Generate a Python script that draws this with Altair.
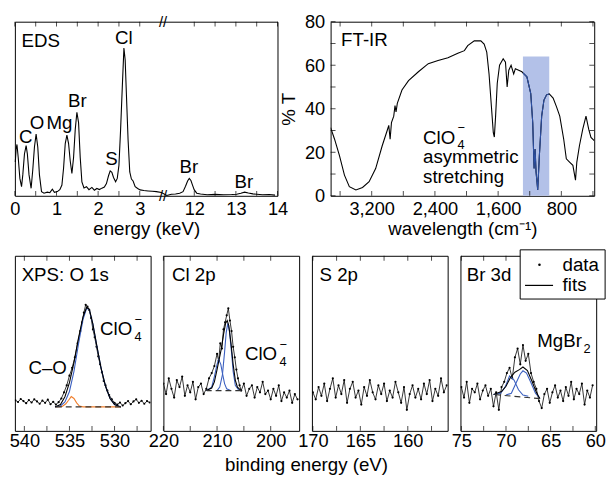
import altair as alt
import pandas as pd

FONT = "Liberation Sans"
FS = 19      # in-panel texts and axis titles
FT = 18.5    # tick labels
BLUE = "#3a5fc0"
ORANGE = "#f07f2d"

# ---------------- EDS ----------------
eds_E = [0.01, 0.03, 0.05, 0.08, 0.12, 0.16, 0.19, 0.23, 0.27, 0.30, 0.34, 0.39, 0.43, 0.47, 0.51, 0.55,
         0.59, 0.64, 0.70, 0.78, 0.84, 0.90, 0.95, 1.02, 1.08, 1.13, 1.17, 1.21, 1.25, 1.29, 1.33, 1.37,
         1.41, 1.45, 1.49, 1.53, 1.57, 1.61, 1.66, 1.72, 1.78, 1.85, 1.91, 1.97, 2.03, 2.09, 2.15, 2.20,
         2.25, 2.29, 2.33, 2.37, 2.42, 2.46, 2.50, 2.54, 2.58, 2.62, 2.65, 2.68, 2.72, 2.76, 2.80, 2.84,
         2.89, 2.95, 3.01, 3.10, 3.20, 3.30, 3.40, 3.52,
         11.34, 11.45, 11.55, 11.65, 11.73, 11.79, 11.84, 11.88, 11.92, 11.96, 12.00, 12.06, 12.15,
         12.31, 12.50, 12.70, 12.90, 13.02, 13.12, 13.21, 13.30, 13.41, 13.64, 13.80, 13.94]
eds_I = [19.4, 27, 29.5, 22, 10, 5.3, 12, 24, 28.8, 24, 12, 4.3, 15, 28, 35.4, 28,
         12, 2.4, 1.5, 2.1, 1.8, 3.8, 2.0, 2.4, 3.5, 6.2, 16, 30, 34.8, 30, 20, 12.8,
         22, 38, 48, 42, 22, 8, 4.5, 5.2, 3.5, 4.8, 3.2, 4.2, 3.6, 4.4, 5.0, 7.0,
         11.5, 14.3, 13.5, 10.5, 8.1, 10, 17.5, 38, 62, 84.9, 78, 58, 32, 13.7, 9.6, 8.5,
         5.3, 4.2, 3.4, 3.0, 2.8, 2.6, 2.4, 1.9,
         0.2, 0.9, 1.0, 1.5, 2.4, 5.5, 8.5, 10, 8.8, 6, 3.4, 1.5, 1.0,
         0.6, 0.8, 0.6, 0.7, 0.9, 1.5, 2.1, 1.6, 1.1, 0.6, 0.7, 0.4]
eds_lab_text = ["EDS", "C", "O", "Mg", "Br", "S", "Cl", "Br", "Br"]
eds_lab_E = [0.16, 0.26, 0.53, 1.07, 1.50, 2.32, 2.62, 11.87, 13.19]
eds_lab_I = [89, 33.5, 42, 41.6, 54.6, 20.9, 90.6, 16.2, 8.1]
eds_lab_align = ["left", "center", "center", "center", "center", "center", "center", "center", "center"]
eds_major = [0, 1, 2, 3, 12, 13, 14]
eds_minor = [0.5, 1.5, 2.5, 12.5, 13.5]
eds_break = [3.56]

# ---------------- FT-IR ----------------
ftir_wn = [3720, 3670, 3608, 3545, 3483, 3400, 3316, 3233, 3150, 3067, 3004, 2984, 2967, 2950, 2921,
           2905, 2892, 2876, 2817, 2734, 2609, 2484, 2360, 2235, 2110, 2027, 1985, 1902, 1819, 1777,
           1744, 1715, 1685, 1661, 1648, 1632, 1611, 1582, 1536, 1507, 1486, 1465, 1436, 1403, 1382,
           1340, 1299, 1286, 1236, 1187, 1162, 1145, 1132, 1120, 1099, 1078, 1049, 1020, 987, 953,
           904, 862, 820, 770, 737, 696, 654, 621, 604, 571, 529, 488, 454, 425, 384]
ftir_T = [31.3, 26, 18.5, 9.5, 4.2, 2.7, 3.8, 6.5, 12.5, 23, 30, 32.4, 26, 33.6, 36.6,
          41.5, 38.5, 42.5, 48.6, 52.9, 57, 60.7, 62.2, 63.4, 65.5, 66.7, 69, 71.2, 71.2, 69.7,
          66, 56, 41, 29, 27, 36.6, 51.7, 60, 63, 61.4, 50, 57.7, 60, 56, 58.4,
          57.7, 57, 56.5, 54.7, 47, 33.6, 12.5, 21.5, 11, 2.7, 18.5, 36.6, 44, 46.4, 46.8,
          44.9, 41, 36.6, 26, 17, 15.5, 14, 7.2, 15.5, 23, 30.6, 36.6, 30.6, 26.8, 25.3]
band_lo, band_hi, band_top = [953], [1286], [64]
ftir_x_major = [3200, 2400, 1600, 800]
ftir_x_minor = [3600, 2800, 2000, 1200, 400]
ftir_y_major = [0, 20, 40, 60, 80]
ftir_y_minor = [10, 30, 50, 70]

# ---------------- XPS ----------------
o1s_x = [541.0, 540.7, 540.4, 540.1, 539.8, 539.5, 539.2, 538.9, 538.6, 538.3, 538.0, 537.7, 537.4,
         537.1, 536.8, 536.5, 536.2, 535.9, 535.6, 535.3, 535.0, 534.7, 534.4, 534.1, 533.8, 533.6,
         533.4, 533.2, 533.0, 532.8, 532.6, 532.4, 532.2, 532.0, 531.8, 531.6, 531.4, 531.2, 531.0,
         530.8, 530.6, 530.3, 530.0, 529.7, 529.4, 529.1, 528.8, 528.5, 528.2, 527.9, 527.6, 527.3,
         527.0, 526.7, 526.4, 526.1]
o1s_y = [17.5, 16.5, 18.2, 17.0, 15.8, 17.6, 16.2, 18.0, 16.8, 15.5, 17.3, 16.0, 17.8,
         15.2, 16.6, 15.0, 16.4, 18.5, 22.0, 26.0, 31.5, 36.0, 42.0, 50.0, 57.0, 62.0,
         67.5, 72.0, 71.0, 69.0, 64.5, 58.0, 53.5, 48.0, 42.5, 38.0, 33.5, 28.5, 26.0,
         23.0, 20.5, 18.0, 16.0, 15.0, 16.2, 14.5, 15.8, 17.0, 15.2, 16.8, 18.0, 16.0,
         17.2, 15.5, 17.0, 16.2]
o1s_tot_x = [536.6, 536.0, 535.5, 535.0, 534.5, 534.0, 533.5, 533.1, 532.8, 532.4, 532.0, 531.5, 531.0, 530.5, 530.0, 529.3]
o1s_tot_y = [13.7, 15.0, 19.5, 27.5, 39.0, 53.0, 65.0, 70.5, 69.5, 61.0, 49.5, 36.0, 25.5, 18.5, 15.0, 13.7]
o1s_c1_x = [536.6, 536.0, 535.5, 535.0, 534.5, 534.0, 533.5, 533.1, 532.8, 532.4, 532.0, 531.5, 531.0, 530.5, 530.0, 529.3]
o1s_c1_y = [13.7, 14.2, 16.5, 22.5, 34.0, 49.5, 63.5, 70.0, 69.3, 61.0, 49.5, 36.0, 25.5, 18.5, 15.0, 13.7]
o1s_c2_x = [536.6, 535.8, 535.4, 535.1, 534.8, 534.5, 534.2, 533.9, 533.5, 529.3]
o1s_c2_y = [13.7, 14.0, 15.5, 17.5, 19.6, 18.5, 16.0, 14.2, 13.7, 13.7]
o1s_bg_x = [536.6, 529.3]
o1s_bg_y = [13.7, 13.7]

cl_x = [220.0, 219.5, 219.0, 218.5, 218.0, 217.5, 217.0, 216.5, 216.0, 215.5, 215.0, 214.5, 214.0,
        213.5, 213.0, 212.5, 212.0, 211.5, 211.0, 210.5, 210.0, 209.7, 209.4, 209.1, 208.8, 208.5,
        208.2, 207.9, 207.6, 207.3, 207.0, 206.7, 206.4, 206.1, 205.8, 205.5, 205.0, 204.5, 204.0,
        203.5, 203.0, 202.5, 202.0, 201.5, 201.0, 200.5, 200.0, 199.5, 199.0, 198.5, 198.0, 197.5,
        197.0, 196.5, 196.0, 195.5, 195.0]
cl_y = [27, 21, 30, 24, 19, 29, 25, 31, 20, 26, 22, 28, 18,
        25, 27, 21, 24, 30, 33, 37, 44, 40, 50, 47, 58, 62,
        66, 70, 63, 57, 48, 42, 35, 30, 26, 23, 27, 20, 24,
        26, 19, 25, 22, 28, 21, 23, 18, 24, 20, 26, 17, 22,
        19, 23, 16, 21, 18]
cl_tot_x = [212.0, 211.0, 210.5, 210.0, 209.6, 209.2, 208.8, 208.4, 208.1, 207.8, 207.4, 207.0, 206.6, 206.2, 205.5]
cl_tot_y = [23, 24.5, 28, 35, 41, 47, 55, 61.5, 63, 60, 50, 38, 29, 25, 23]
cl_c1_x = [210.0, 209.5, 209.0, 208.6, 208.3, 208.0, 207.7, 207.3, 207.0, 206.6, 206.0, 205.5]
cl_c1_y = [23, 25, 32, 45, 56, 61.4, 57, 45, 34, 26, 23.5, 23]
cl_c2_x = [212.0, 211.0, 210.5, 210.0, 209.7, 209.3, 209.0, 208.6, 208.2, 207.5]
cl_c2_y = [23, 25, 31, 38, 40.8, 38, 33, 27, 24, 23]
cl_bg_x = [211.9, 205.5]
cl_bg_y = [23, 23]

s_x = [170.0, 169.7, 169.4, 169.1, 168.8, 168.5, 168.2, 167.9, 167.6, 167.3, 167.0, 166.7, 166.4,
       166.1, 165.8, 165.5, 165.2, 164.9, 164.6, 164.3, 164.0, 163.7, 163.4, 163.1, 162.8, 162.5,
       162.2, 161.9, 161.6, 161.3, 161.0, 160.7, 160.4, 160.1, 159.8, 159.5, 159.2, 158.9, 158.6,
       158.3, 158.0, 157.7, 157.4, 157.1, 156.8, 156.5, 156.2, 155.9]
s_y = [22, 18, 25, 20, 27, 17, 24, 30, 19, 26, 21, 29, 16,
       24, 28, 19, 23, 15, 25, 20, 29, 22, 18, 26, 21, 27,
       17, 23, 19, 28, 22, 16, 25, 12, 21, 26, 19, 24, 18,
       27, 21, 29, 17, 24, 20, 30, 22, 26]

br_x = [75.0, 74.7, 74.4, 74.1, 73.8, 73.5, 73.2, 72.9, 72.6, 72.3, 72.0, 71.7, 71.4, 71.1, 70.8,
        70.5, 70.2, 69.9, 69.6, 69.3, 69.0, 68.7, 68.4, 68.1, 67.8, 67.5, 67.2, 66.9, 66.6, 66.3,
        66.0, 65.7, 65.4, 65.1, 64.8, 64.5, 64.2, 63.9, 63.6, 63.3, 63.0, 62.7, 62.4, 62.1, 61.8,
        61.5, 61.2, 60.9, 60.6, 60.3]
br_y = [25, 19, 28, 16, 24, 22, 27, 18, 23, 26, 20, 24, 14, 22, 12,
        25, 28, 33, 36, 30, 42, 47, 38, 49, 40, 44, 33, 28, 24, 17,
        13, 21, 24, 16, 22, 26, 19, 23, 17, 25, 20, 28, 18, 24, 21,
        27, 15, 23, 19, 26]
br_tot_x = [71.4, 70.5, 70.0, 69.5, 69.0, 68.5, 68.1, 67.6, 67.1, 66.6, 66.2]
br_tot_y = [20.8, 22.5, 25.5, 30.5, 33.5, 35.0, 36.5, 34.5, 28.5, 22, 18.4]
br_c1_x = [71.4, 70.6, 70.1, 69.6, 69.1, 68.6, 68.1, 67.5]
br_c1_y = [20.8, 21.5, 25, 31.4, 29, 23.5, 20.5, 19.8]
br_c2_x = [70.0, 69.4, 68.9, 68.4, 68.1, 67.7, 67.2, 66.7, 66.2]
br_c2_y = [20.5, 21.5, 27, 32.5, 34.3, 33, 27.5, 21.5, 18.6]
br_bg_x = [71.4, 66.2]
br_bg_y = [20.8, 18.4]

legend_items = ["data", "fits"]

SUB_DX, SUB_DY, SUP_DY = 35, 8, -10


# ---------------- helpers ----------------
def xticks(vals, xs, ys, xax, yax, ybot, ytop, size=5):
    df = pd.DataFrame({"v": vals})
    bot = alt.Chart(df).mark_tick(orient="vertical", size=size, thickness=1, color="black",
                                  yOffset=-size / 2).encode(
        x=alt.X("v:Q", scale=xs, axis=xax), y=alt.YDatum(ybot, scale=ys, axis=yax))
    top = alt.Chart(df).mark_tick(orient="vertical", size=size, thickness=1, color="black",
                                  yOffset=size / 2).encode(
        x=alt.X("v:Q", scale=xs, axis=xax), y=alt.YDatum(ytop, scale=ys, axis=yax))
    return [bot, top]


def yticks(vals, xs, ys, xax, yax, xleft, xright, size=5):
    df = pd.DataFrame({"v": vals})
    left = alt.Chart(df).mark_tick(orient="horizontal", size=size, thickness=1, color="black",
                                   xOffset=size / 2).encode(
        y=alt.Y("v:Q", scale=ys, axis=yax), x=alt.XDatum(xleft, scale=xs, axis=xax))
    right = alt.Chart(df).mark_tick(orient="horizontal", size=size, thickness=1, color="black",
                                    xOffset=-size / 2).encode(
        y=alt.Y("v:Q", scale=ys, axis=yax), x=alt.XDatum(xright, scale=xs, axis=xax))
    return [left, right]


def line_layer(df, xs, ys, xax, yax, color, width=1.0, dash=None, xf="x", yf="y"):
    kw = dict(color=color, strokeWidth=width, clip=True)
    if dash:
        kw["strokeDash"] = dash
    return alt.Chart(df).mark_line(**kw).encode(
        x=alt.X(f"{xf}:Q", scale=xs, axis=xax), y=alt.Y(f"{yf}:Q", scale=ys, axis=yax),
        order=alt.Order(f"{xf}:Q"))


def text_layer(df, xs, ys, xax, yax, size=FS, dx=0, dy=0, align="left"):
    return alt.Chart(df).mark_text(font=FONT, fontSize=size, align=align, baseline="middle",
                                   dx=dx, dy=dy, color="black").encode(
        x=alt.X("x:Q", scale=xs, axis=xax), y=alt.Y("y:Q", scale=ys, axis=yax), text="t:N")


def label_axis(vals, expr, title=None, pad=4, tpad=2, title_kw=None):
    kw = dict(orient="bottom", values=vals, ticks=False, tickSize=0, domain=False, grid=False,
              labelPadding=pad, labelFontSize=FT, labelFont=FONT, labelColor="black",
              labelExpr=expr,
              title=title, titleFontSize=FS, titleFont=FONT, titleFontWeight="normal",
              titleColor="black", titlePadding=tpad, labelFlush=False, labelOverlap=False)
    if title_kw:
        kw.update(title_kw)
    return alt.Axis(**kw)


# ---------------- EDS panel ----------------
SHIFT = 7.69
disp_expr = f"datum.E < 5 ? datum.E : datum.E - {SHIFT}"
eds_xs = alt.Scale(domain=[0, 6.31], nice=False, zero=False)
eds_ys = alt.Scale(domain=[0, 100], nice=False, zero=False)
disp_major = [v if v < 5 else round(v - SHIFT, 2) for v in eds_major]
disp_minor = [v if v < 5 else round(v - SHIFT, 2) for v in eds_minor]
eds_xax = label_axis(disp_major,
                     f"datum.value > 3.6 ? format(datum.value + {SHIFT}, '.0f') : format(datum.value, '.0f')",
                     title="energy (keV)", pad=4, tpad=2)
eds_yax = None

eds_df = pd.DataFrame({"E": eds_E, "I": eds_I})
eds_line = alt.Chart(eds_df).transform_calculate(d=disp_expr).mark_line(
    color="black", strokeWidth=1.1).encode(
    x=alt.X("d:Q", scale=eds_xs, axis=eds_xax), y=alt.Y("I:Q", scale=eds_ys, axis=eds_yax),
    order=alt.Order("d:Q"))

eds_lab_df = pd.DataFrame({"E": eds_lab_E, "y": eds_lab_I, "t": eds_lab_text, "a": eds_lab_align})


def eds_text(al):
    return alt.Chart(eds_lab_df).transform_filter(f"datum.a == '{al}'").transform_calculate(
        x=disp_expr).mark_text(font=FONT, fontSize=FS, align=al, baseline="middle").encode(
        x=alt.X("x:Q", scale=eds_xs, axis=eds_xax), y=alt.Y("y:Q", scale=eds_ys, axis=eds_yax),
        text="t:N")


brk_df = pd.DataFrame({"x": eds_break * 2, "y": [0, 100], "t": ["//", "//"]})
eds = alt.layer(
    eds_line, *xticks(disp_major + disp_minor, eds_xs, eds_ys, eds_xax, eds_yax, 0, 100),
    eds_text("left"), eds_text("center"),
    text_layer(brk_df, eds_xs, eds_ys, eds_xax, eds_yax, size=15, align="center")
).properties(width=267, height=177)

# ---------------- FT-IR panel ----------------
ft_xs = alt.Scale(domain=[384, 3720], reverse=True, nice=False, zero=False)
ft_ys = alt.Scale(domain=[0, 80], nice=False, zero=False)
ft_xax = label_axis(ftir_x_major, "format(datum.value, ',')", title="wavelength (cm⁻¹)",
                    pad=4, tpad=2)
ft_yax = alt.Axis(orient="left", values=ftir_y_major, ticks=False, tickSize=0, domain=False,
                  grid=False, labelPadding=6, labelFontSize=FT, labelFont=FONT,
                  labelExpr="format(datum.value, 'd')",
                  labelColor="black", title="% T", titleFontSize=FS, titleFont=FONT,
                  titleFontWeight="normal", titleColor="black", titlePadding=6)
ft_df = pd.DataFrame({"wn": ftir_wn, "T": ftir_T})
band_df = pd.DataFrame({"lo": band_lo, "hi": band_hi, "top": band_top, "bot": [0]})

ft_band = alt.Chart(band_df).mark_rect(color="#b3c1e8").encode(
    x=alt.X("lo:Q", scale=ft_xs, axis=ft_xax), x2="hi:Q",
    y=alt.Y("top:Q", scale=ft_ys, axis=ft_yax), y2="bot:Q")
ft_line = line_layer(ft_df, ft_xs, ft_ys, ft_xax, ft_yax, "black", 1.1, xf="wn", yf="T")
ft_blue = line_layer(ft_df, ft_xs, ft_ys, ft_xax, ft_yax, "#2c4fa3", 1.1, xf="wn", yf="T").transform_filter(
    f"datum.wn >= {band_lo[0]} && datum.wn <= {band_hi[0]}")

ft_lab = pd.DataFrame({"x": [3587, 2550, 2550, 2550], "y": [71.4, 26.7, 17.6, 8.6],
                       "t": ["FT-IR", "ClO", "asymmetric", "stretching"]})
ft_sub = pd.DataFrame({"x": [2550], "y": [26.7], "t": ["4"]})
ft_sup = pd.DataFrame({"x": [2550], "y": [26.7], "t": ["−"]})
ftir = alt.layer(
    ft_band, ft_line, ft_blue,
    *xticks(ftir_x_major + ftir_x_minor, ft_xs, ft_ys, ft_xax, ft_yax, 0, 80),
    *yticks(ftir_y_major + ftir_y_minor, ft_xs, ft_ys, ft_xax, ft_yax, 3720, 384),
    text_layer(ft_lab, ft_xs, ft_ys, ft_xax, ft_yax),
    text_layer(ft_sub, ft_xs, ft_ys, ft_xax, ft_yax, size=13, dx=SUB_DX, dy=SUB_DY),
    text_layer(ft_sup, ft_xs, ft_ys, ft_xax, ft_yax, size=13, dx=SUB_DX, dy=SUP_DY),
).properties(width=268, height=177)

# ---------------- XPS panels ----------------
xps_ys = alt.Scale(domain=[0, 100], nice=False, zero=False)

# legend box in the Br 3d panel's coordinates
leg_box = {"x1": [68.41], "x2": [58.9], "y1": [103.4], "y2": [75.3]}
leg_dot = {"x": [66.25], "y": [94.9]}
leg_line = {"x": [67.87, 64.73], "y": [83.1, 83.1]}
leg_text = {"x": [63.66, 63.66], "y": [94.9, 83.1], "t": legend_items}


def xps_panel(dom, major, minor, dx, dy, fits, labels, subs=(), sups=(), title=None,
              title_kw=None, legend=False):
    xs = alt.Scale(domain=dom, reverse=True, nice=False, zero=False)
    xax = label_axis(major, "format(datum.value, 'd')", title=title, pad=1, tpad=6,
                     title_kw=title_kw)
    yax = None
    ddf = pd.DataFrame({"x": dx, "y": dy})
    layers = [line_layer(ddf, xs, xps_ys, xax, yax, "black", 0.8),
              alt.Chart(ddf).mark_circle(color="black", size=5, opacity=1, clip=True).encode(
                  x=alt.X("x:Q", scale=xs, axis=xax), y=alt.Y("y:Q", scale=xps_ys, axis=yax))]
    layers += xticks(major + minor, xs, xps_ys, xax, yax, 0, 100)
    for (fx, fy, col, dash) in fits:
        layers.append(line_layer(pd.DataFrame({"x": fx, "y": fy}), xs, xps_ys, xax, yax,
                                 col, 1.1, dash=dash))
    layers.append(text_layer(pd.DataFrame(labels), xs, xps_ys, xax, yax))
    for s in subs:
        layers.append(text_layer(pd.DataFrame(s[0]), xs, xps_ys, xax, yax, size=13, dx=s[1], dy=SUB_DY))
    for s in sups:
        layers.append(text_layer(pd.DataFrame(s[0]), xs, xps_ys, xax, yax, size=13, dx=s[1], dy=SUP_DY))
    if legend:
        layers.append(alt.Chart(pd.DataFrame(leg_box)).mark_rect(
            fill="white", stroke="black", strokeWidth=1, clip=False).encode(
            x=alt.X("x1:Q", scale=xs, axis=xax), x2="x2:Q",
            y=alt.Y("y1:Q", scale=xps_ys, axis=yax), y2="y2:Q"))
        layers.append(alt.Chart(pd.DataFrame(leg_dot)).mark_circle(
            color="black", size=7, opacity=1, clip=False).encode(
            x=alt.X("x:Q", scale=xs, axis=xax), y=alt.Y("y:Q", scale=xps_ys, axis=yax)))
        layers.append(alt.Chart(pd.DataFrame(leg_line)).mark_line(
            color="black", strokeWidth=1.2, clip=False).encode(
            x=alt.X("x:Q", scale=xs, axis=xax), y=alt.Y("y:Q", scale=xps_ys, axis=yax)))
        layers.append(text_layer(pd.DataFrame(leg_text), xs, xps_ys, xax, yax))
    return alt.layer(*layers).properties(width=138, height=178)


p1 = xps_panel([526.0, 541.05], [540, 535, 530], [537.5, 532.5, 527.5], o1s_x, o1s_y,
               [(o1s_c2_x, o1s_c2_y, ORANGE, None), (o1s_c1_x, o1s_c1_y, BLUE, None),
                (o1s_tot_x, o1s_tot_y, "black", None), (o1s_bg_x, o1s_bg_y, "#333333", [6, 4])],
               {"x": [540.3, 531.6, 539.55], "y": [88.9, 57.9, 36], "t": ["XPS: O 1s", "ClO", "C–O"]},
               subs=[({"x": [531.6], "y": [57.9], "t": ["4"]}, SUB_DX)],
               sups=[({"x": [531.6], "y": [57.9], "t": ["−"]}, SUB_DX)])
p2 = xps_panel([194.7, 220.0], [220, 210, 200], [215, 205], cl_x, cl_y,
               [(cl_c1_x, cl_c1_y, BLUE, None), (cl_c2_x, cl_c2_y, BLUE, None),
                (cl_tot_x, cl_tot_y, "black", None), (cl_bg_x, cl_bg_y, "#333333", [6, 4])],
               {"x": [218.4, 204.8], "y": [88.9, 43.6], "t": ["Cl 2p", "ClO"]},
               subs=[({"x": [204.8], "y": [43.6], "t": ["4"]}, SUB_DX)],
               sups=[({"x": [204.8], "y": [43.6], "t": ["−"]}, SUB_DX)],
               title="binding energy (eV)", title_kw={"titleX": 145, "titleAlign": "center"})
p3 = xps_panel([155.8, 170.1], [170, 165, 160], [167.5, 162.5, 157.5], s_x, s_y, [],
               {"x": [169.3], "y": [88.9], "t": ["S 2p"]})
p4 = xps_panel([59.9, 75.1], [75, 70, 65, 60], [72.5, 67.5, 62.5], br_x, br_y,
               [(br_c1_x, br_c1_y, BLUE, None), (br_c2_x, br_c2_y, BLUE, None),
                (br_tot_x, br_tot_y, "black", None), (br_bg_x, br_bg_y, "#333333", [6, 4])],
               {"x": [74.4, 66.5], "y": [88.9, 51.1], "t": ["Br 3d", "MgBr"]},
               subs=[({"x": [66.5], "y": [51.1], "t": ["2"]}, 47)], legend=True)

top = alt.hconcat(eds, ftir, spacing=54, bounds="flush")
bottom = alt.hconcat(p1, p2, p3, p4, spacing=13, bounds="flush")

chart = alt.vconcat(top, bottom, spacing=9).properties(
    padding=0
).configure_view(stroke="black", strokeWidth=1).configure_axis(
    labelFont=FONT, titleFont=FONT).configure_text(font=FONT)

chart.save("out.html", embed_options={"renderer": "svg", "actions": False})
